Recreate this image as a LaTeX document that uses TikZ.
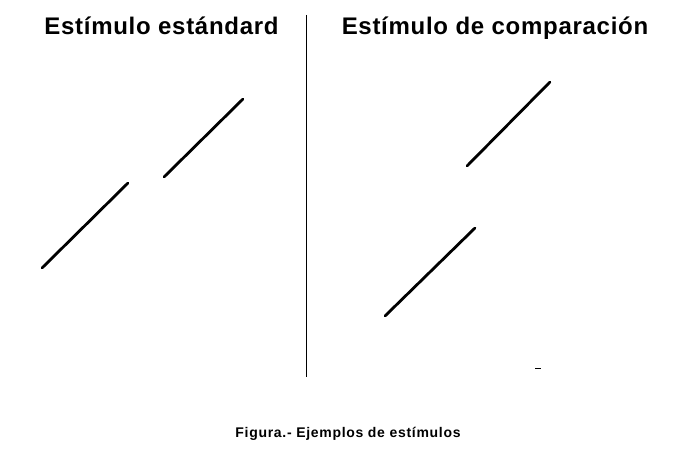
\documentclass[tikz,border=0pt]{standalone}
\usepackage{fontspec}
\setmainfont{Liberation Sans}
\newfontfamily\titlefont[LetterSpace=3]{Liberation Sans}
\newfontfamily\capfont[LetterSpace=5]{Liberation Sans}
\begin{document}
\begin{tikzpicture}[x=1pt,y=-1pt,
  title/.style={font=\titlefont\bfseries\fontsize{24}{28}\selectfont, inner sep=0pt, anchor=base},
  caption/.style={font=\capfont\bfseries\fontsize{14}{16}\selectfont, inner sep=0pt, anchor=base},
  stim/.style={line width=2.8pt, line cap=round}]
\useasboundingbox (0,0) rectangle (675,473);
\node[title] (t1) at (161.5,35) {Estímulo estándard};
\node[title] (t2) at (495,35) {Estímulo de comparación};
\draw[line width=1pt] (306,15) -- (306,377);
\draw[stim] (42,268) -- (128,183);
\draw[stim] (164,177) -- (243,99);
\draw[stim] (385,316) -- (475,228);
\draw[stim] (467,166) -- (550,82);
\draw[line width=1.8pt] (535,368.5) -- (541,368.5);
\node[caption] (cap) at (348,437) {Figura.- Ejemplos de estímulos};
\end{tikzpicture}
\end{document}
